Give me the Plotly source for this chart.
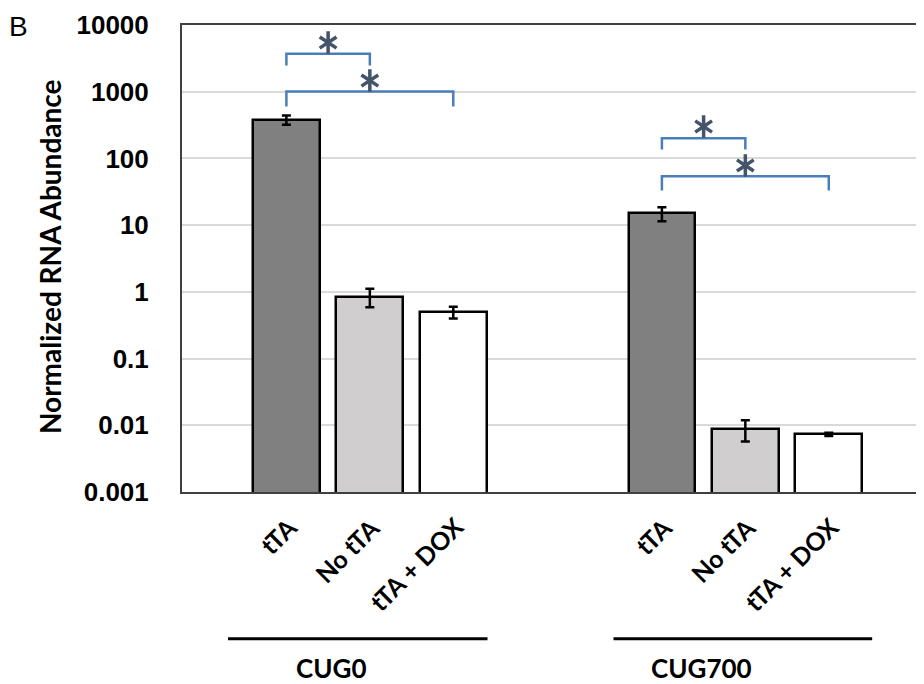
import plotly.graph_objects as go

# ---------------- data ----------------
groups = ["CUG0", "CUG700"]
conditions = ["tTA", "No tTA", "tTA + DOX"]
cond_colors = ["#808080", "#D0CECE", "#FFFFFF"]

values = {
    "CUG0":   [380, 0.85, 0.50],
    "CUG700": [15, 0.0088, 0.0073],
}
errors = {
    "CUG0":   [60, 0.26, 0.10],
    "CUG700": [3.6, 0.0031, 0.0004],
}

y_tickvals = [0.001, 0.01, 0.1, 1, 10, 100, 1000, 10000]
y_ticktext = ["0.001", "0.01", "0.1", "1", "10", "100", "1000", "10000"]

# significance brackets: (from condition idx, to condition idx, bar level, end level, star level)
brackets = {
    "CUG0":   [(0, 1, 3720, 2470, 5460), (0, 2, 1007, 600, 1470)],
    "CUG700": [(0, 1, 200, 136, 301), (0, 2, 54, 33, 78.5)],
}

# ---------------- layout helpers ----------------
group_step = 4.5          # distance between first bars of consecutive groups
bar_w = 0.8

def xpos(g, i):
    return g * group_step + i

fig = go.Figure()

# bars, one trace per condition
for ci, cond in enumerate(conditions):
    xs = [xpos(g, ci) for g in range(len(groups))]
    ys = [values[grp][ci] for grp in groups]
    es = [errors[grp][ci] for grp in groups]
    fig.add_trace(go.Bar(
        x=xs, y=ys, width=bar_w, name=cond,
        marker=dict(color=cond_colors[ci], line=dict(color="#000000", width=2.5)),
        error_y=dict(type="data", array=es, visible=True, color="#000000",
                     thickness=2.5, width=4.5),
        showlegend=False,
    ))

# significance brackets and asterisks
br_color = "#4A7EBB"
star_color = "#44546A"
for g, grp in enumerate(groups):
    for (a, b, lvl, end, star) in brackets[grp]:
        xa, xb = xpos(g, a), xpos(g, b)
        fig.add_trace(go.Scatter(
            x=[xa, xa, xb, xb], y=[end, lvl, lvl, end], mode="lines",
            line=dict(color=br_color, width=2.5), showlegend=False, hoverinfo="skip",
        ))
        for sym in ["y-up-open", "y-down-open"]:
            fig.add_trace(go.Scatter(
                x=[(xa + xb) / 2], y=[star], mode="markers",
                marker=dict(symbol=sym, size=14, color=star_color,
                            line=dict(color=star_color, width=3.5)),
                showlegend=False, hoverinfo="skip",
            ))

# category labels (rotated) under each bar
for g, grp in enumerate(groups):
    for ci, cond in enumerate(conditions):
        fig.add_annotation(xref="x", yref="paper", x=xpos(g, ci) + 0.22, y=-0.036,
                           text="<b>%s</b>" % cond, textangle=-45, showarrow=False,
                           xanchor="right", yanchor="top",
                           font=dict(family="Lato", size=25, color="#000000"))

# group underline extents (relative to group, in category units) and labels
line_extent = [(-1.70, 1.41), (-1.58, 1.52)]
label_offset = [-0.47, -0.53]
for g, grp in enumerate(groups):
    center = xpos(g, 1)
    x0, x1 = center + line_extent[g][0], center + line_extent[g][1]
    fig.add_shape(type="line", xref="x", yref="paper", x0=x0, x1=x1,
                  y0=-0.314, y1=-0.314, line=dict(color="#000000", width=3))
    fig.add_annotation(xref="x", yref="paper", x=center + label_offset[g], y=-0.377,
                       text="<b>%s</b>" % grp, showarrow=False,
                       font=dict(family="Lato", size=26, color="#000000"),
                       xanchor="center", yanchor="middle")

# panel letter and y title
fig.add_annotation(xref="paper", yref="paper", x=-0.236, y=0.996, text="B",
                   showarrow=False, xanchor="left", yanchor="middle",
                   font=dict(family="Liberation Sans", size=28, color="#000000"))
fig.add_annotation(xref="paper", yref="paper", x=-0.178, y=0.505,
                   text="<b>Normalized RNA Abundance</b>", textangle=-90,
                   showarrow=False, xanchor="center", yanchor="middle",
                   font=dict(family="Lato", size=28, color="#000000"))

fig.update_layout(
    width=916, height=676,
    margin=dict(l=174, r=0, t=17, b=192),
    paper_bgcolor="#FFFFFF", plot_bgcolor="#FFFFFF",
    bargap=0, barmode="overlay",
    xaxis=dict(
        range=[-1.251, 7.641], showticklabels=False, showgrid=False, zeroline=False,
        showline=True, linecolor="#404040", linewidth=2, mirror=True, ticks="",
    ),
    yaxis=dict(
        type="log", range=[-3, 4], tickvals=y_tickvals, ticktext=y_ticktext,
        showgrid=True, gridcolor="#D9D9D9", gridwidth=1.5, zeroline=False,
        showline=True, linecolor="#404040", linewidth=2, mirror=False,
        ticks="", ticklabelstandoff=26,
        tickfont=dict(family="Liberation Sans", size=26, color="#000000", weight="bold"),
    ),
)

fig.write_html("out.html")
